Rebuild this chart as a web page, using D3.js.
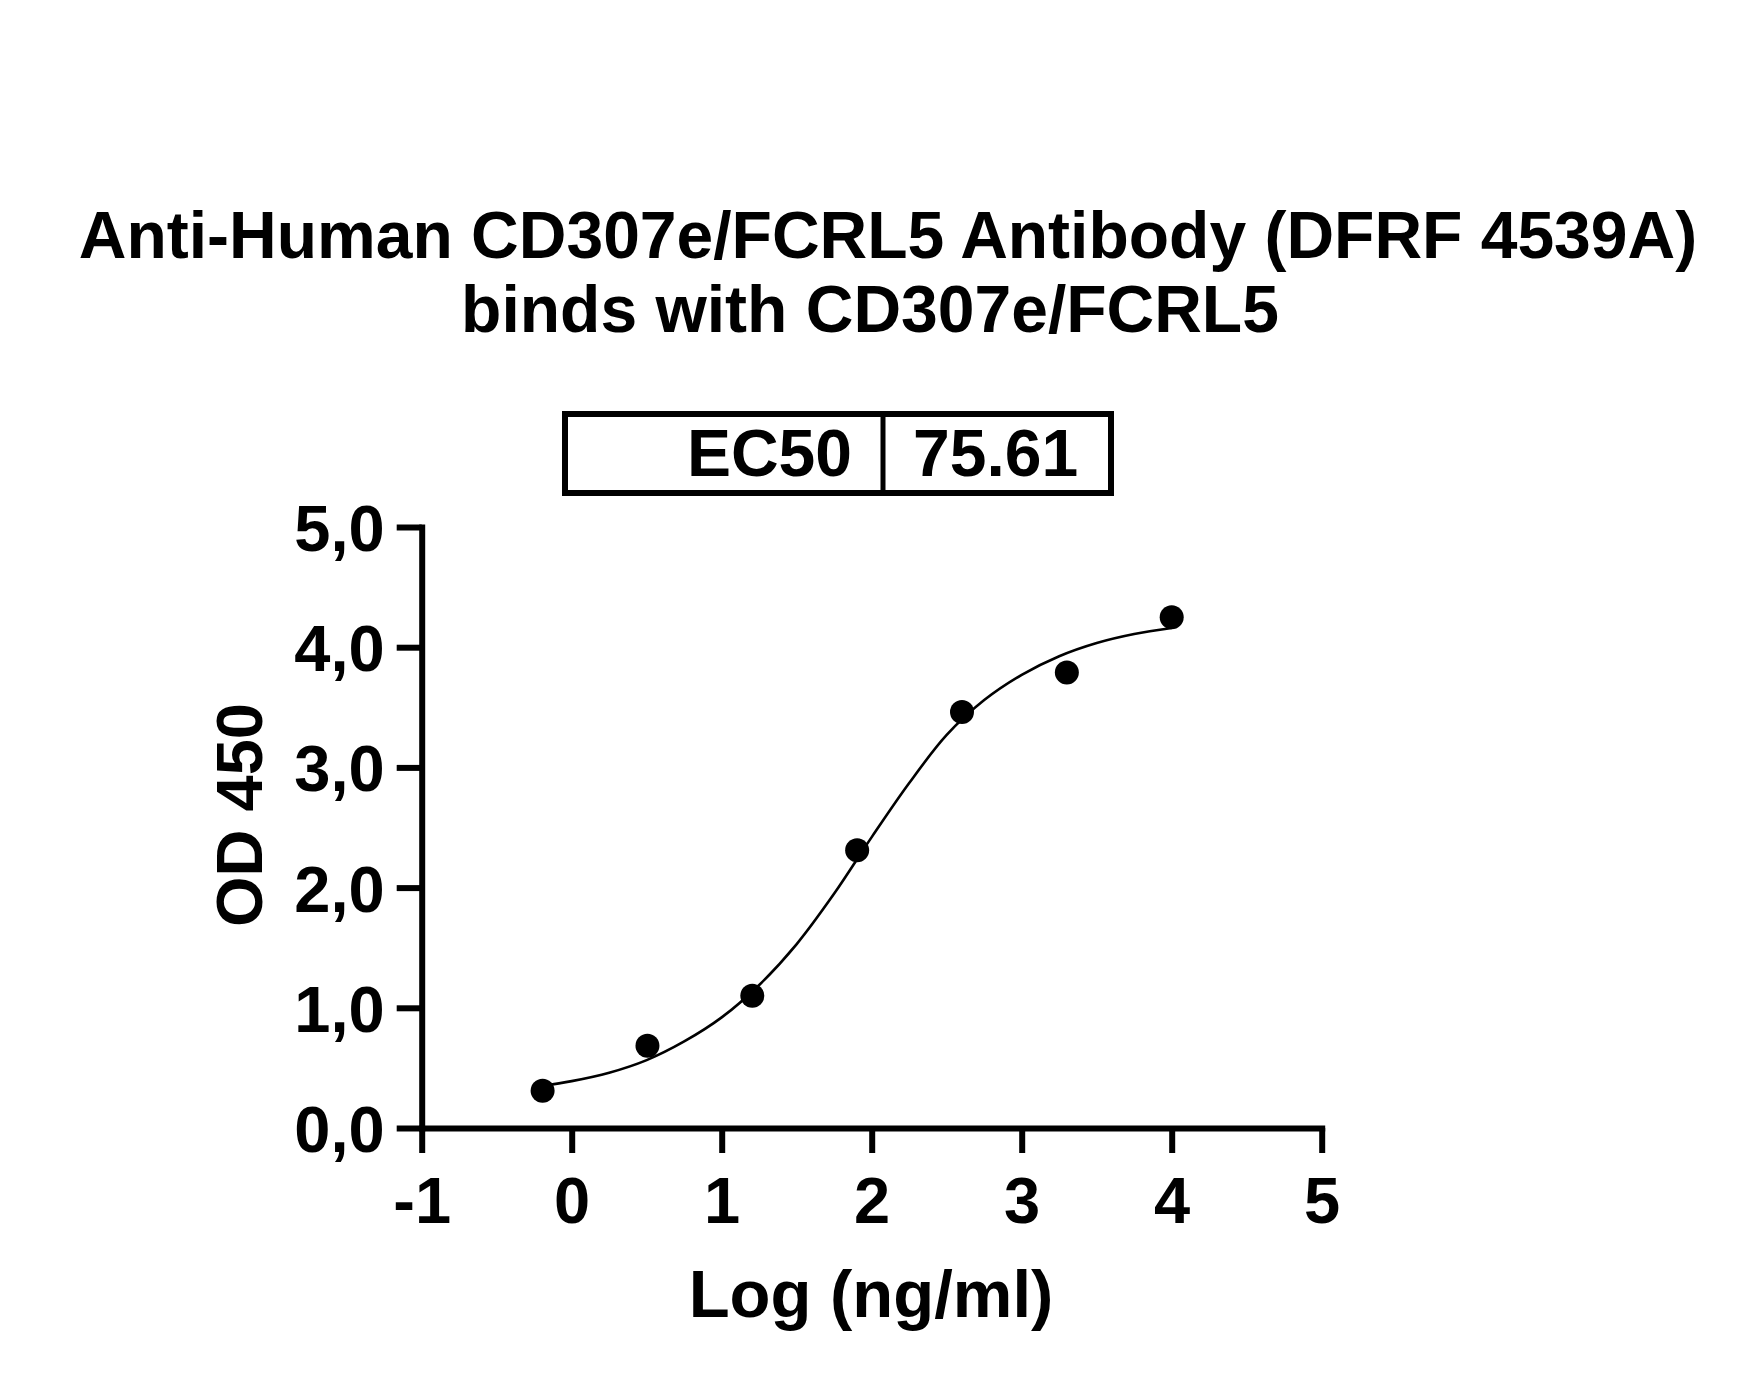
<!DOCTYPE html>
<html>
<head>
<meta charset="utf-8">
<script src="https://cdn.jsdelivr.net/npm/d3@7"></script>
<style>
  html, body { margin: 0; padding: 0; background: #fff; }
  #chart { width: 1744px; height: 1374px; }
  text { font-family: "Liberation Sans", Arial, sans-serif; font-weight: bold; fill: #000; }
</style>
</head>
<body>
<div id="chart"></div>
<script>
// data
const titleLines = ["Anti-Human CD307e/FCRL5 Antibody (DFRF 4539A)", "binds with CD307e/FCRL5"];
const xLabel = "Log (ng/ml)";
const yLabel = "OD 450";
const ec50Label = "EC50";
const ec50Value = "75.61";

const xTicks = [-1, 0, 1, 2, 3, 4, 5];
const xTickLabels = ["-1", "0", "1", "2", "3", "4", "5"];
const yTicks = [0, 1, 2, 3, 4, 5];
const yTickLabels = ["0,0", "1,0", "2,0", "3,0", "4,0", "5,0"];

// measured points, log concentration vs OD
const pointX = [-0.194, 0.505, 1.204, 1.903, 2.602, 3.301, 4.0];
const pointY = [0.31, 0.685, 1.10, 2.31, 3.46, 3.79, 4.25];

// fitted curve
const curveX = [-0.2, 0.0, 0.25, 0.5, 0.75, 1.0, 1.25, 1.5, 1.75, 2.0, 2.25, 2.5, 2.75, 3.0, 3.25, 3.5, 3.75, 4.0];
const curveY = [0.35, 0.39, 0.46, 0.565, 0.72, 0.92, 1.19, 1.53, 1.95, 2.42, 2.87, 3.27, 3.56, 3.77, 3.925, 4.035, 4.11, 4.16];

const width = 1744;
const height = 1374;

const svg = d3.select("#chart")
  .append("svg")
  .attr("width", width)
  .attr("height", height);

const x = d3.scaleLinear().domain([-1, 5]).range([421.7, 1321.7]);
const y = d3.scaleLinear().domain([0, 5]).range([1128, 527]);

// title
svg.append("text")
  .attr("x", 888)
  .attr("y", 258)
  .attr("text-anchor", "middle")
  .attr("font-size", "66px")
  .text(titleLines[0]);
svg.append("text")
  .attr("x", 870)
  .attr("y", 332)
  .attr("text-anchor", "middle")
  .attr("font-size", "66px")
  .text(titleLines[1]);

// EC50 box
const box = svg.append("g");
box.append("rect")
  .attr("x", 565)
  .attr("y", 414)
  .attr("width", 546)
  .attr("height", 79)
  .attr("fill", "none")
  .attr("stroke", "#000")
  .attr("stroke-width", 6);
box.append("line")
  .attr("x1", 883).attr("x2", 883)
  .attr("y1", 414).attr("y2", 493)
  .attr("stroke", "#000")
  .attr("stroke-width", 5);
box.append("text")
  .attr("x", 852)
  .attr("y", 476)
  .attr("text-anchor", "end")
  .attr("font-size", "66px")
  .text(ec50Label);
box.append("text")
  .attr("x", 913)
  .attr("y", 476)
  .attr("text-anchor", "start")
  .attr("font-size", "66px")
  .text(ec50Value);

// axes
const xAxis = svg.append("g")
  .attr("transform", `translate(0,${y(0)})`)
  .call(d3.axisBottom(x).tickValues(xTicks).tickSize(25).tickSizeOuter(0)
    .tickFormat((d, i) => xTickLabels[i]));

const yAxis = svg.append("g")
  .attr("transform", `translate(${x(-1)},0)`)
  .call(d3.axisLeft(y).tickValues(yTicks).tickSize(25).tickSizeOuter(0)
    .tickFormat((d, i) => yTickLabels[i]));

[xAxis, yAxis].forEach((g) => {
  g.attr("font-family", null).attr("font-size", null);
  g.select(".domain")
    .attr("stroke", "#000")
    .attr("stroke-width", 6)
    .attr("stroke-linecap", "square");
  g.selectAll(".tick line")
    .attr("stroke", "#000")
    .attr("stroke-width", 6);
});

xAxis.selectAll(".tick text")
  .attr("y", 95)
  .attr("dy", null)
  .attr("font-size", "65px");

yAxis.selectAll(".tick text")
  .attr("x", -37)
  .attr("dy", "0.36em")
  .attr("font-size", "65px");

// axis titles
svg.append("text")
  .attr("x", 871)
  .attr("y", 1317)
  .attr("text-anchor", "middle")
  .attr("font-size", "67px")
  .text(xLabel);

svg.append("text")
  .attr("transform", `translate(262,815) rotate(-90)`)
  .attr("text-anchor", "middle")
  .attr("font-size", "65px")
  .text(yLabel);

// fitted curve
const curveData = curveX.map((d, i) => ({ x: d, y: curveY[i] }));
svg.append("path")
  .datum(curveData)
  .attr("fill", "none")
  .attr("stroke", "#000")
  .attr("stroke-width", 2.6)
  .attr("d", d3.line()
    .x((d) => x(d.x))
    .y((d) => y(d.y))
    .curve(d3.curveCatmullRom));

// data points
const pointData = pointX.map((d, i) => ({ x: d, y: pointY[i] }));
svg.selectAll(".dot")
  .data(pointData)
  .enter()
  .append("circle")
  .attr("class", "dot")
  .attr("cx", (d) => x(d.x))
  .attr("cy", (d) => y(d.y))
  .attr("r", 12)
  .attr("fill", "#000");
</script>
</body>
</html>
